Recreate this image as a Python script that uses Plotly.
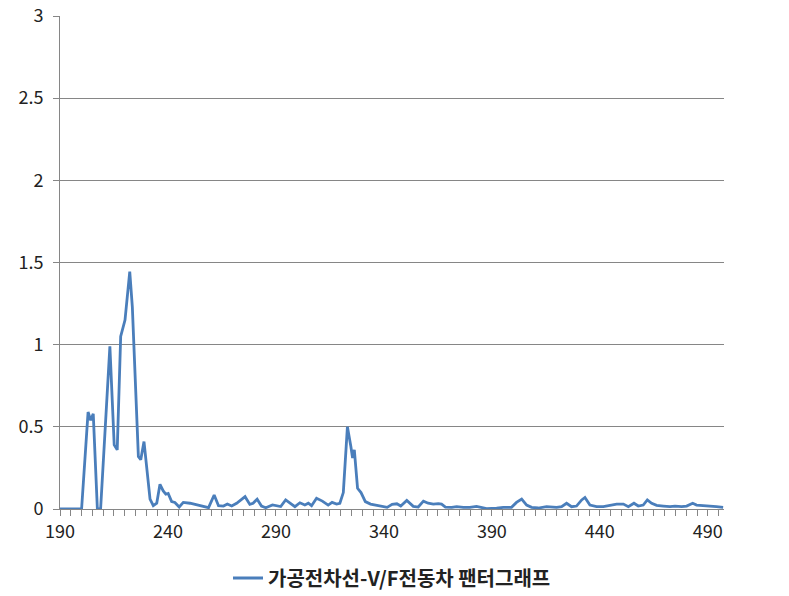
import plotly.graph_objects as go

# Wavelength-like x positions and read values
x_vals = [190, 200, 203, 204.2, 205.4, 207.3, 208.8, 213.1, 215.1, 216.5, 218.1, 220.1,
          222.3, 223.5, 226.3, 227.4, 228.9, 231.7, 233.2, 234.8, 236.3, 237.8, 239.0,
          240.1, 241.7, 243.2, 245.2, 247.1, 250.2, 253.3, 255.6, 258.8, 261.4, 263.4,
          265.7, 267.5, 269.5, 271.8, 275.7, 277.9, 279.4, 281.3, 283.3, 285.3, 288.4,
          290.7, 292.2, 294.5, 296.8, 298.8, 301.1, 303.4, 305.0, 306.5, 308.8, 311.5,
          314.2, 316.0, 318.1, 319.6, 321.2, 323.1, 324.7, 325.5, 326.3, 327.8, 329.4,
          331.4, 333.8, 336.6, 339.0, 341.5, 343.8, 346.0, 347.8, 350.6, 353.6, 355.9,
          358.3, 360.5, 362.9, 365.2, 366.7, 368.5, 371.4, 373.7, 376.8, 379.8, 382.9,
          385.2, 387.6, 392.2, 395.3, 399.1, 401.4, 403.8, 406.1, 408.4, 411.5, 415.3,
          418.4, 420.0, 422.3, 424.6, 426.9, 429.2, 431.6, 433.1, 435.4, 438.5, 441.6,
          444.7, 447.8, 450.9, 453.2, 455.8, 457.8, 460.1, 462.0, 464.0, 466.3, 469.4,
          472.5, 474.8, 477.9, 480.2, 483.0, 484.8, 487.9, 491.0, 494.0, 497.1]
y_vals = [0, 0, 0.59, 0.54, 0.58, 0, 0, 0.99, 0.39, 0.36, 1.05, 1.15,
          1.445, 1.23, 0.32, 0.30, 0.41, 0.06, 0.02, 0.035, 0.15, 0.11, 0.09,
          0.095, 0.045, 0.04, 0.012, 0.04, 0.035, 0.025, 0.014, 0.008, 0.085, 0.02,
          0.018, 0.03, 0.018, 0.035, 0.075, 0.028, 0.035, 0.06, 0.018, 0.008, 0.025,
          0.02, 0.015, 0.055, 0.035, 0.014, 0.038, 0.024, 0.035, 0.02, 0.065, 0.048,
          0.024, 0.04, 0.03, 0.035, 0.1, 0.50, 0.38, 0.31, 0.36, 0.126, 0.10,
          0.045, 0.03, 0.024, 0.018, 0.01, 0.028, 0.032, 0.018, 0.052, 0.016, 0.012,
          0.048, 0.035, 0.03, 0.033, 0.03, 0.012, 0.01, 0.014, 0.01, 0.01, 0.016,
          0.008, 0.002, 0.005, 0.01, 0.01, 0.04, 0.06, 0.024, 0.01, 0.006, 0.014,
          0.01, 0.01, 0.014, 0.035, 0.014, 0.018, 0.055, 0.07, 0.024, 0.014, 0.014,
          0.024, 0.03, 0.03, 0.014, 0.035, 0.018, 0.024, 0.055, 0.035, 0.022, 0.018,
          0.014, 0.018, 0.014, 0.018, 0.035, 0.024, 0.022, 0.018, 0.014, 0.01]

series_name = "가공전차선-V/F전동차 팬터그래프"
x_ticks = [190, 240, 290, 340, 390, 440, 490]
y_ticks = [0, 0.5, 1, 1.5, 2, 2.5, 3]
y_tick_text = ["0", "0.5", "1", "1.5", "2", "2.5", "3"]

FONT = "Noto Sans CJK KR"
GRID = "#868686"

fig = go.Figure()
fig.add_trace(go.Scatter(
    x=x_vals, y=y_vals, mode="lines", name=series_name,
    line=dict(color="#4A7EBB", width=2.8),
))

fig.update_layout(
    width=789, height=596,
    margin=dict(l=60, r=65, t=16, b=87, autoexpand=False),
    paper_bgcolor="white", plot_bgcolor="white",
    font=dict(family=FONT, size=18, color="#222222"),
    showlegend=True,
    legend=dict(orientation="h", x=0.5, xanchor="center",
                yref="container", y=1 - 578 / 596, yanchor="middle",
                font=dict(family=FONT, size=20, color="#222222", weight="bold"),
                bgcolor="rgba(0,0,0,0)"),
    xaxis=dict(
        range=[190, 497.5], tickmode="array", tickvals=x_ticks,
        ticktext=[str(v) for v in x_ticks],
        showgrid=False, zeroline=False,
        showline=True, linecolor=GRID, linewidth=1,
        ticks="outside", ticklen=6, tickcolor=GRID, tickwidth=1,
        minor=dict(dtick=5, tick0=190, ticks="outside", ticklen=6, tickcolor=GRID,
                   showgrid=False),
        tickfont=dict(family=FONT, size=18, color="#222222"),
    ),
    yaxis=dict(
        range=[0, 3], tickmode="array", tickvals=y_ticks, ticktext=y_tick_text,
        showgrid=True, gridcolor=GRID, gridwidth=1, zeroline=False,
        showline=True, linecolor=GRID, linewidth=1,
        ticks="outside", ticklen=6, tickcolor=GRID, tickwidth=1,
        ticklabelstandoff=6,
        tickfont=dict(family=FONT, size=18, color="#222222"),
    ),
)

fig.write_html("out.html")
